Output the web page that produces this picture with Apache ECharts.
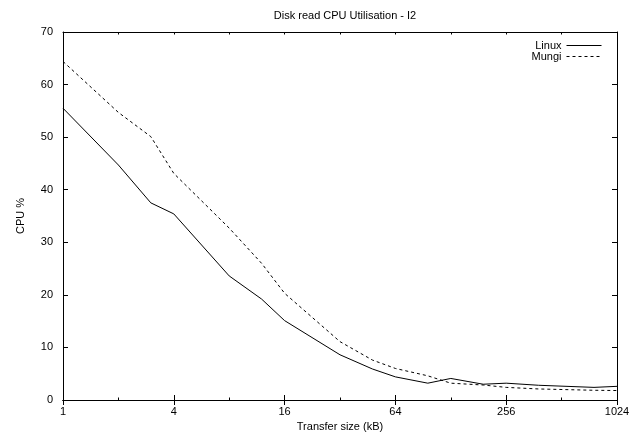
<!DOCTYPE html>
<html><head><meta charset="utf-8">
<script src="https://cdn.jsdelivr.net/npm/echarts@6/dist/echarts.min.js"></script>
<style>html,body{margin:0;padding:0;background:#fff}#c{width:644px;height:438px}</style>
</head><body><div id="c"></div>
<script>
var title = 'Disk read CPU Utilisation - I2';
var sizes = [1, 2, 3, 4, 8, 12, 16, 32, 48, 64, 96, 128, 192, 256, 384, 768, 1024];
var linux = [55.5, 44.7, 37.5, 35.4, 23.6, 19.2, 15.1, 8.6, 5.9, 4.4, 3.2, 4.1, 3.0, 3.2, 2.8, 2.4, 2.6];
var mungi = [64.4, 54.7, 50.1, 43.1, 32.7, 26.0, 20.3, 11.1, 7.6, 6.0, 4.6, 3.2, 2.85, 2.4, 2.1, 1.85, 1.8];
var xTickLabels = ['1', '4', '16', '64', '256', '1024'];
var yTicks = [0, 10, 20, 30, 40, 50, 60, 70];

function pairs(v) { return sizes.map(function (s, i) { return [s, v[i]]; }); }
var font = 'Liberation Sans, Arial, sans-serif';
var chart = echarts.init(document.getElementById('c'));
var axisLine = { show: true, lineStyle: { color: '#000', width: 1 } };
function xAx(pos, interval, len, withLabels) {
  var a = {
    type: 'log', logBase: 2, min: 1, max: 1024, interval: interval, position: pos,
    axisLine: axisLine,
    axisTick: { show: true, inside: true, length: len, lineStyle: { color: '#000' } },
    axisLabel: { show: false }, splitLine: { show: false }
  };
  if (withLabels) {
    a.name = 'Transfer size (kB)'; a.nameLocation = 'middle'; a.nameGap = 21; a.nameMoveOverlap = false;
    a.nameTextStyle = { fontFamily: font, fontSize: 11, color: '#000' };
    a.axisLabel = { show: true, fontFamily: font, fontSize: 11, color: '#000', margin: 6, hideOverlap: false,
      formatter: function (v) { var s = String(Math.round(v)); return xTickLabels.indexOf(s) >= 0 ? s : ''; } };
  }
  return a;
}
chart.setOption({
  animation: false,
  title: { text: title, left: 340, top: 5, textAlign: 'center',
    textStyle: { fontFamily: font, fontSize: 11, fontWeight: 'normal', color: '#000' } },
  legend: {
    right: 37, top: 35, orient: 'vertical', align: 'right', itemWidth: 35, itemHeight: 11, itemGap: 0,
    itemStyle: { opacity: 0 }, lineStyle: { width: 1 },
    textStyle: { fontFamily: font, fontSize: 11, color: '#000' },
    data: ['Linux', 'Mungi']
  },
  grid: { left: 63, right: 27, top: 32, bottom: 38, outerBoundsMode: 'none', containLabel: false },
  xAxis: [xAx('bottom', 2, 5, true), xAx('top', 2, 5, false), xAx('bottom', 1, 2.5, false), xAx('top', 1, 2.5, false)],
  yAxis: [{
    type: 'value', min: yTicks[0], max: yTicks[yTicks.length - 1], interval: 10,
    name: 'CPU %', nameLocation: 'middle', nameRotate: 90, nameGap: 37, nameMoveOverlap: false,
    nameTextStyle: { fontFamily: font, fontSize: 11, color: '#000' },
    axisLine: axisLine,
    axisTick: { show: true, inside: true, length: 5, lineStyle: { color: '#000' } },
    axisLabel: { fontFamily: font, fontSize: 11, color: '#000', margin: 10 },
    splitLine: { show: false }
  }, {
    type: 'value', min: yTicks[0], max: yTicks[yTicks.length - 1], interval: 10, position: 'right',
    axisLine: axisLine,
    axisTick: { show: true, inside: true, length: 5, lineStyle: { color: '#000' } },
    axisLabel: { show: false }, splitLine: { show: false }
  }],
  series: [{
    name: 'Linux', type: 'line', data: pairs(linux), showSymbol: false, symbol: 'none',
    lineStyle: { color: '#000', width: 1, type: 'solid' }, itemStyle: { color: '#000' }
  }, {
    name: 'Mungi', type: 'line', data: pairs(mungi), showSymbol: false, symbol: 'none',
    lineStyle: { color: '#000', width: 1, type: [3, 3] }, itemStyle: { color: '#000' }
  }]
});
</script></body></html>
